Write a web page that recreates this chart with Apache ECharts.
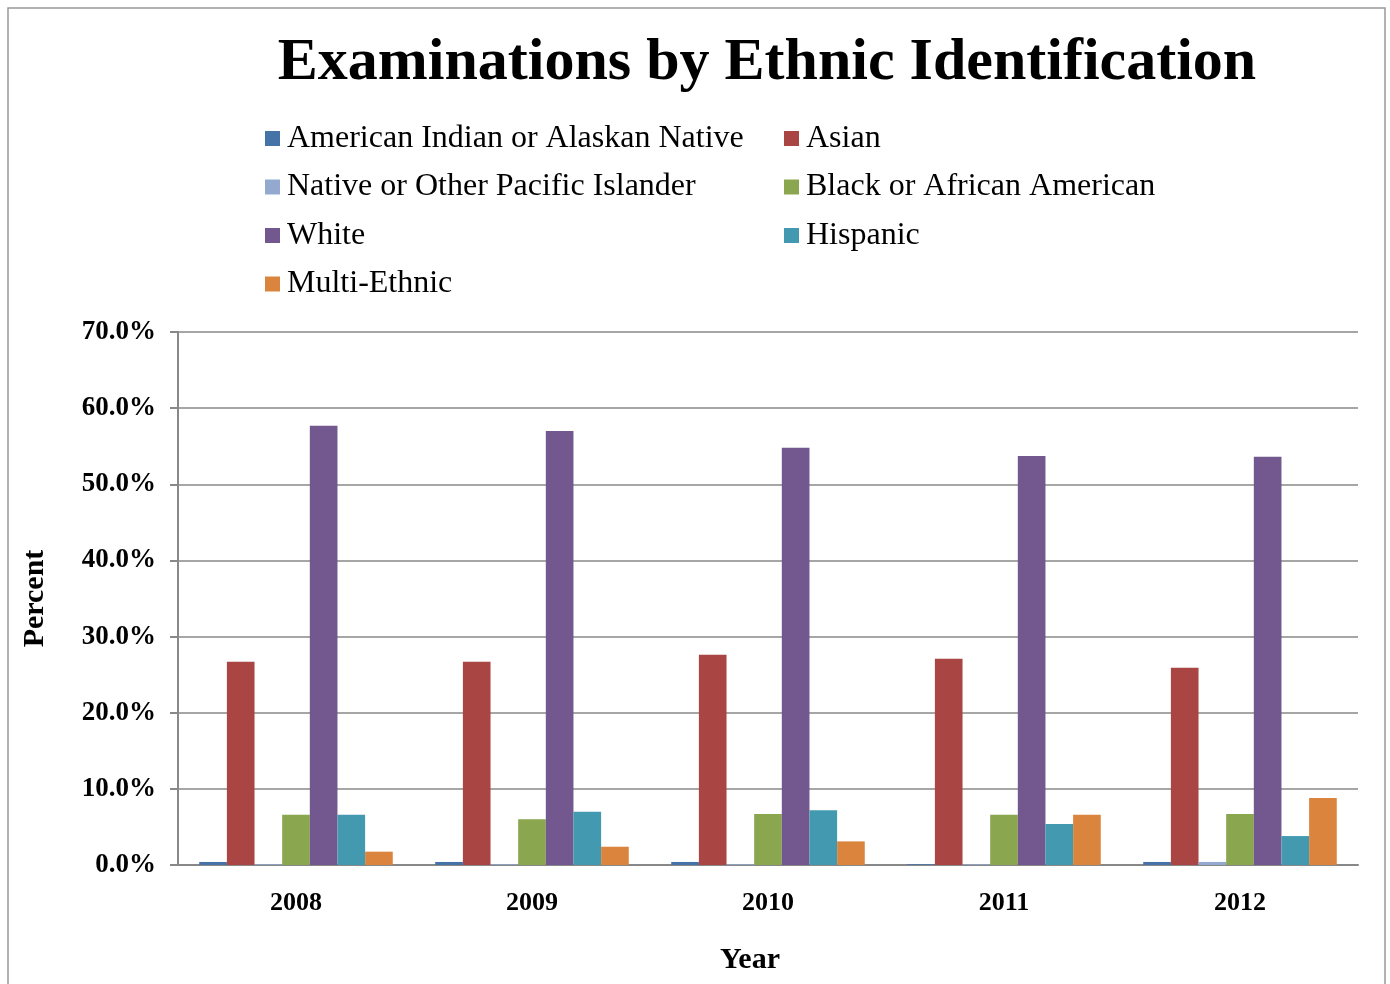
<!DOCTYPE html>
<html><head><meta charset="utf-8">
<script src="https://cdn.jsdelivr.net/npm/echarts@6/dist/echarts.min.js"></script>
<style>html,body{margin:0;padding:0;background:#fff}#c{width:1390px;height:984px}</style>
</head><body><div id="c"></div>
<script>
const years = ['2008','2009','2010','2011','2012'];
const seriesNames = ['American Indian or Alaskan Native','Asian','Native or Other Pacific Islander','Black or African American','White','Hispanic','Multi-Ethnic'];
const amInd   = [0.4, 0.4, 0.4, 0.1, 0.4];
const asian   = [26.7, 26.7, 27.6, 27.1, 25.9];
const natPac  = [0.1, 0.1, 0.1, 0.1, 0.4];
const black   = [6.6, 6.0, 6.7, 6.6, 6.7];
const white   = [57.7, 57.0, 54.8, 53.7, 53.6];
const hispanic= [6.6, 7.0, 7.2, 5.4, 3.8];
const multi   = [1.75, 2.4, 3.1, 6.6, 8.8];
const yTicks = [0,10,20,30,40,50,60,70];
const colors = ['#4572A7','#A94643','#93A9CF','#8AA64E','#72588E','#4399AF','#DB843D'];
const dataArr = [amInd, asian, natPac, black, white, hispanic, multi];

const serif = '"Liberation Serif","Times New Roman",serif';
const chart = echarts.init(document.getElementById('c'));
const legendText = {fontFamily: serif, fontSize: 32, color:'#000', lineHeight: 33, padding:[0,0,0,2]};
chart.setOption({
  animation:false,
  color: colors,
  title:{text:'Examinations by Ethnic Identification', left:762, top:28, textAlign:'center',
    textStyle:{fontFamily:serif, fontSize:60, fontWeight:'bold', color:'#000'}},
  graphic:[{type:'rect', shape:{x:8,y:8,width:1377,height:1000}, style:{fill:'none', stroke:'#999', lineWidth:1.5}, silent:true}],
  legend:[
    {data:[seriesNames[0],seriesNames[2],seriesNames[4],seriesNames[6]], orient:'vertical', left:260, top:117,
      itemWidth:15, itemHeight:15, itemGap:15.5, icon:'rect', textStyle:legendText},
    {data:[seriesNames[1],seriesNames[3],seriesNames[5]], orient:'vertical', left:779, top:117,
      itemWidth:15, itemHeight:15, itemGap:15.5, icon:'rect', textStyle:legendText}
  ],
  grid:{left:178, right:32, top:332, bottom:119, containLabel:false},
  xAxis:{type:'category', data:years,
    name:'Year', nameLocation:'middle', nameGap:80,
    nameTextStyle:{fontFamily:serif, fontSize:30, fontWeight:'bold', color:'#000', padding:[0,36,0,0]},
    axisLine:{lineStyle:{color:'#888', width:2}}, axisTick:{show:false},
    axisLabel:{fontFamily:serif, fontSize:26, fontWeight:'bold', color:'#000', margin:25}},
  yAxis:{type:'value', min:0, max:70, interval:10,
    name:'Percent', nameLocation:'middle', nameGap:128, nameRotate:90,
    nameTextStyle:{fontFamily:serif, fontSize:30, fontWeight:'bold', color:'#000'},
    axisLine:{show:true, lineStyle:{color:'#888', width:2}},
    axisTick:{show:true, length:8, lineStyle:{color:'#888', width:2}},
    splitLine:{lineStyle:{color:'#888', width:1.5}},
    axisLabel:{fontFamily:serif, fontSize:27, fontWeight:'bold', color:'#000', margin:22,
      formatter: v => v.toFixed(1)+'%'}},
  series: seriesNames.map((n,i)=>({name:n, type:'bar', data:dataArr[i], barGap:'0%', barCategoryGap:'18%',
     itemStyle:{color:colors[i]}}))
});
</script></body></html>
